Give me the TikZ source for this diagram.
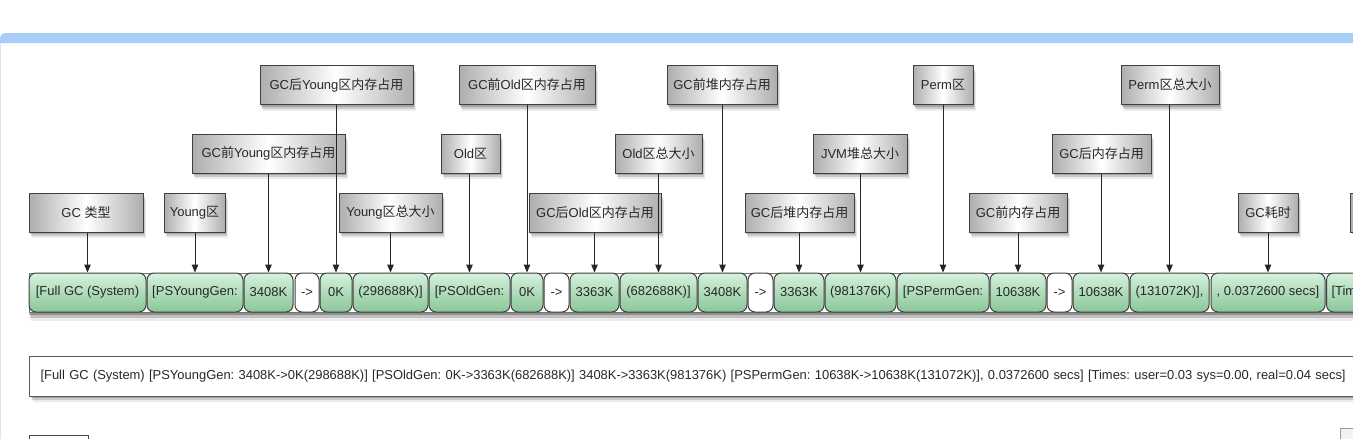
\documentclass[tikz,border=0pt]{standalone}
\usepackage{fontspec}
\setmainfont{Liberation Sans}
\newfontfamily\cjk{Noto Sans CJK SC}
\usetikzlibrary{arrows.meta,shadows}
\definecolor{barblue}{RGB}{168,206,247}
\definecolor{edgeblue}{RGB}{215,230,245}
\definecolor{gtop}{RGB}{214,241,221}
\definecolor{gbot}{RGB}{138,198,153}
\definecolor{ink}{RGB}{40,40,40}
\tikzset{
  shad/.style={drop shadow={shadow xshift=1pt,shadow yshift=-2pt,opacity=0.18,fill=black},
               drop shadow={shadow xshift=2pt,shadow yshift=-4pt,opacity=0.14,fill=black},
               drop shadow={shadow xshift=3pt,shadow yshift=-6pt,opacity=0.08,fill=black}},
  lbl/.style={draw=black!75, line width=1pt, left color=black!32, right color=black!32, middle color=white,
    minimum height=39pt, inner sep=0pt, text=ink, shad},
  gbox/.style={draw=black!75, line width=1pt, rounded corners=7pt, top color=gtop, bottom color=gbot,
    minimum height=39pt, inner sep=0pt, text=ink},
  wbox/.style={draw=black!75, line width=1pt, rounded corners=7pt, fill=white,
    minimum height=39pt, inner sep=0pt, text=ink},
  rowbg/.style={draw=black!55, line width=0.8pt, fill=white, minimum height=39pt, inner sep=0pt,
    drop shadow={shadow xshift=0pt,shadow yshift=-3pt,opacity=0.25,fill=black},
    drop shadow={shadow xshift=1pt,shadow yshift=-6pt,opacity=0.18,fill=black},
    drop shadow={shadow xshift=2pt,shadow yshift=-9pt,opacity=0.08,fill=black}},
  tbox/.style={draw=black!65, line width=1pt, fill=white, minimum height=40pt, inner xsep=11pt,
    text width=1380pt, align=left, text=ink, shad},
  arr/.style={draw=black!85, line width=1pt, -{Triangle[length=8pt,width=6.5pt]}}
}
\newcommand\GreenBox[4]{\node[gbox,minimum width=#3] (#1) at (#2,292.5) {#4};}
\newcommand\WhiteBox[3]{\node[wbox,minimum width=#3] (#1) at (#2,292.5) {->};}
\begin{document}
\frenchspacing
\begin{tikzpicture}[x=1pt,y=-1pt,font=\fontsize{13}{15}\selectfont]
\useasboundingbox (0,0) rectangle (1353,439);
\clip (0,0) rectangle (1353,439);
\fill[white] (0,0) rectangle (1353,439);
% window frame
\fill[barblue] (0,43) [rounded corners=5pt] -- (0,33) -- (1360,33) [sharp corners] -- (1360,43) -- cycle;
\draw[edgeblue, line width=1.2pt] (0.6,43) -- (0.6,439);
% row background
\node[rowbg, anchor=west, minimum width=1400] (row) at (29,292.5) {};
% green row
\GreenBox{fgc}{87.5}{117}{[Full GC (System)}
\GreenBox{psy}{195}{96}{[PSYoungGen:}
\GreenBox{ya}{268.5}{49}{3408K}
\WhiteBox{a1}{307}{24}
\GreenBox{yb}{336}{32}{0K}
\GreenBox{ysz}{390.5}{75}{(298688K)]}
\GreenBox{pso}{469.5}{81}{[PSOldGen:}
\GreenBox{oa}{527}{32}{0K}
\WhiteBox{a2}{556.5}{25}
\GreenBox{ob}{594.5}{49}{3363K}
\GreenBox{osz}{658.5}{77}{(682688K)]}
\GreenBox{ha}{722.5}{49}{3408K}
\WhiteBox{a3}{760.5}{25}
\GreenBox{hb}{799}{50}{3363K}
\GreenBox{hsz}{860.5}{71}{(981376K)}
\GreenBox{psp}{943}{92}{[PSPermGen:}
\GreenBox{pa}{1018}{56}{10638K}
\WhiteBox{a4}{1059.5}{25}
\GreenBox{pb}{1101}{56}{10638K}
\GreenBox{psz}{1169.5}{79}{(131072K)],}
\GreenBox{secs}{1268}{114}{, 0.0372600 secs]}
\node[gbox, minimum width=100, anchor=west, align=left, text width=90pt, inner xsep=5pt] (tim) at (1326,292.5) {[Times:};
% label boxes
\node[lbl, minimum width=114] (t1) at (86,212.5) {GC {\cjk 类型}};
\node[lbl, minimum width=61] (t2) at (194.5,212.5) {Young{\cjk 区}};
\node[lbl, minimum width=153] (t3) at (268.5,153.5) {GC{\cjk 前}Young{\cjk 区内存占用}};
\node[lbl, minimum width=153] (t4) at (336.5,85) {GC{\cjk 后}Young{\cjk 区内存占用}};
\node[lbl, minimum width=103] (t5) at (390.5,212.5) {Young{\cjk 区总大小}};
\node[lbl, minimum width=59] (t6) at (470.5,153.5) {Old{\cjk 区}};
\node[lbl, minimum width=136] (t7) at (527,85) {GC{\cjk 前}Old{\cjk 区内存占用}};
\node[lbl, minimum width=132] (t8) at (595,212.5) {GC{\cjk 后}Old{\cjk 区内存占用}};
\node[lbl, minimum width=87] (t9) at (658.5,153.5) {Old{\cjk 区总大小}};
\node[lbl, minimum width=110] (t10) at (722,85) {GC{\cjk 前堆内存占用}};
\node[lbl, minimum width=109] (t11) at (799.5,212.5) {GC{\cjk 后堆内存占用}};
\node[lbl, minimum width=94] (t12) at (860,153.5) {JVM{\cjk 堆总大小}};
\node[lbl, minimum width=60] (t13) at (943,85) {Perm{\cjk 区}};
\node[lbl, minimum width=98] (t14) at (1018,212.5) {GC{\cjk 前内存占用}};
\node[lbl, minimum width=99] (t15) at (1101.5,153.5) {GC{\cjk 后内存占用}};
\node[lbl, minimum width=98] (t16) at (1170,85) {Perm{\cjk 区总大小}};
\node[lbl, minimum width=60] (t17) at (1268,212.5) {GC{\cjk 耗时}};
\node[lbl, minimum width=60, anchor=west] (t18) at (1350,212.5) {};
% connectors
\draw[arr] (fgc.north |- t1.south) -- (fgc.north);
\draw[arr] (psy.north |- t2.south) -- (psy.north);
\draw[arr] (ya.north |- t3.south) -- (ya.north);
\draw[arr] (yb.north |- t4.south) -- (yb.north);
\draw[arr] (ysz.north |- t5.south) -- (ysz.north);
\draw[arr] (pso.north |- t6.south) -- (pso.north);
\draw[arr] (oa.north |- t7.south) -- (oa.north);
\draw[arr] (ob.north |- t8.south) -- (ob.north);
\draw[arr] (osz.north |- t9.south) -- (osz.north);
\draw[arr] (ha.north |- t10.south) -- (ha.north);
\draw[arr] (hb.north |- t11.south) -- (hb.north);
\draw[arr] (hsz.north |- t12.south) -- (hsz.north);
\draw[arr] (psp.north |- t13.south) -- (psp.north);
\draw[arr] (pa.north |- t14.south) -- (pa.north);
\draw[arr] (pb.north |- t15.south) -- (pb.north);
\draw[arr] (psz.north |- t16.south) -- (psz.north);
\draw[arr] (secs.north |- t17.south) -- (secs.north);
% full log line
\node[tbox, anchor=west, font=\fontsize{12.95}{15}\selectfont] (log) at (29,376) {[Full GC (System) [PSYoungGen: 3408K->0K(298688K)] [PSOldGen: 0K->3363K(682688K)] 3408K->3363K(981376K) [PSPermGen: 10638K->10638K(131072K)], 0.0372600 secs] [Times: user=0.03 sys=0.00, real=0.04 secs]};
% partial shapes at the lower edge
\draw[black!70, line width=1pt, fill=white] (29,445) |- (88,435.5) -- (88,445);
\draw[black!40, line width=0.8pt, fill=black!5] (1340,428) rectangle (1356,444);
\end{tikzpicture}
\end{document}
